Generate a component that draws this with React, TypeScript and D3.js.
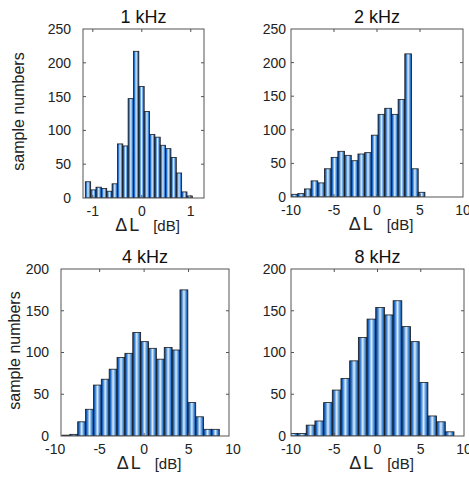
import React, { useEffect, useRef } from 'react';
import * as d3 from 'd3';

const titles = ['1 kHz', '2 kHz', '4 kHz', '8 kHz'];

// histogram counts per frequency band
const counts1k = [24, 12, 16, 14, 10, 21, 80, 77, 147, 217, 165, 128, 94, 90, 78, 73, 60, 37, 9, 3];
const counts2k = [4, 5, 12, 24, 21, 42, 59, 68, 62, 54, 64, 66, 92, 123, 132, 123, 145, 213, 42, 7];
const counts4k = [1, 2, 17, 32, 61, 68, 80, 94, 99, 124, 113, 105, 92, 106, 103, 175, 40, 23, 8, 8];
const counts8k = [3, 3, 13, 18, 40, 55, 69, 90, 118, 140, 154, 145, 162, 131, 113, 64, 24, 17, 5];

// first and last bin edge (dB)
const bins1k = [-1.153, 1.032];
const bins2k = [-10, 5.57];
const bins4k = [-9.24, 8.46];
const bins8k = [-10.25, 8.84];

// axis limits
const xlim1k = [-1.2, 1.27];
const xlim2k = [-10, 10];
const xlim4k = [-9.35, 9.55];
const xlim8k = [-10, 10];

const xTicksNarrow = [-1, 0, 1];
const xTicksWide = [-10, -5, 0, 5, 10];
const yTicks250 = [0, 50, 100, 150, 200, 250];
const yTicks200 = [0, 50, 100, 150, 200];

const FONT = 'Liberation Sans, Arial, sans-serif';

const panels = [
  { title: titles[0], counts: counts1k, bins: bins1k, xlim: xlim1k, ymax: 250, xt: xTicksNarrow, yt: yTicks250,
    box: [83, 204, 29, 198], lblGap: 12, ylabelX: 18 },
  { title: titles[1], counts: counts2k, bins: bins2k, xlim: xlim2k, ymax: 250, xt: xTicksWide, yt: yTicks250,
    box: [291, 463, 29, 197], lblGap: 5, ylabelX: null },
  { title: titles[2], counts: counts4k, bins: bins4k, xlim: xlim4k, ymax: 200, xt: xTicksWide, yt: yTicks200,
    box: [61, 229, 269, 436], lblGap: 12, ylabelX: 14 },
  { title: titles[3], counts: counts8k, bins: bins8k, xlim: xlim8k, ymax: 200, xt: xTicksWide, yt: yTicks200,
    box: [291, 464, 269, 436], lblGap: 5, ylabelX: null },
];

export default function App() {
  const svgRef = useRef<SVGSVGElement>(null);

  useEffect(() => {
    const svg = d3.select(svgRef.current);
    svg.selectAll('*').remove();

    const defs = svg.append('defs');
    const grad = defs.append('linearGradient').attr('id', 'barGrad')
      .attr('x1', '0').attr('x2', '1').attr('y1', '0').attr('y2', '0');
    [['0%', '#0a3a78'], ['18%', '#1f6cc8'], ['50%', '#dcedfb'], ['80%', '#3a86d8'], ['100%', '#0a3a78']]
      .forEach(([o, c]) => grad.append('stop').attr('offset', o).attr('stop-color', c));

    panels.forEach((p, pi) => {
      const [bx0, bx1, by0, by1] = p.box;
      const x = d3.scaleLinear().domain(p.xlim).range([bx0, bx1]);
      const y = d3.scaleLinear().domain([0, p.ymax]).range([by1, by0]);
      const g = svg.append('g');

      defs.append('clipPath').attr('id', 'clip' + pi)
        .append('rect').attr('x', bx0).attr('y', by0).attr('width', bx1 - bx0).attr('height', by1 - by0);

      const n = p.counts.length;
      const w = (p.bins[1] - p.bins[0]) / n;

      g.append('g').attr('clip-path', `url(#clip${pi})`)
        .selectAll('rect')
        .data(p.counts)
        .enter()
        .append('rect')
        .attr('x', (d, i) => x(p.bins[0] + i * w))
        .attr('width', x(p.bins[0] + w) - x(p.bins[0]))
        .attr('y', d => y(d))
        .attr('height', d => y(0) - y(d))
        .attr('fill', 'url(#barGrad)')
        .attr('stroke', '#1b1b1b')
        .attr('stroke-width', 0.8);

      // box
      g.append('rect').attr('x', bx0).attr('y', by0).attr('width', bx1 - bx0).attr('height', by1 - by0)
        .attr('fill', 'none').attr('stroke', '#555').attr('stroke-width', 1);

      // inward ticks on all sides
      const tl = 3;
      p.xt.filter(t => x(t) > bx0 + 1 && x(t) < bx1 - 1).forEach(t => {
        g.append('line').attr('x1', x(t)).attr('x2', x(t)).attr('y1', by1).attr('y2', by1 - tl).attr('stroke', '#555');
        g.append('line').attr('x1', x(t)).attr('x2', x(t)).attr('y1', by0).attr('y2', by0 + tl).attr('stroke', '#555');
      });
      p.yt.filter(t => y(t) > by0 + 1 && y(t) < by1 - 1).forEach(t => {
        g.append('line').attr('x1', bx0).attr('x2', bx0 + tl).attr('y1', y(t)).attr('y2', y(t)).attr('stroke', '#555');
        g.append('line').attr('x1', bx1).attr('x2', bx1 - tl).attr('y1', y(t)).attr('y2', y(t)).attr('stroke', '#555');
      });

      // tick labels
      g.selectAll('.yl').data(p.yt).enter().append('text')
        .attr('x', bx0 - p.lblGap).attr('y', d => y(d)).attr('dy', '0.35em')
        .attr('text-anchor', 'end').attr('font-family', FONT).attr('font-size', 14).attr('fill', '#222')
        .text(d => d);
      g.selectAll('.xl').data(p.xt).enter().append('text')
        .attr('x', d => x(d)).attr('y', by1 + 13).attr('dy', '0.35em')
        .attr('text-anchor', 'middle').attr('font-family', FONT).attr('font-size', 14).attr('fill', '#222')
        .text(d => d);

      // title
      g.append('text').attr('x', (bx0 + bx1) / 2).attr('y', by0 - 6)
        .attr('text-anchor', 'middle').attr('font-family', FONT).attr('font-size', 18).attr('fill', '#111')
        .text(p.title);

      // x label
      const xl = g.append('text').attr('x', (bx0 + bx1) / 2 + 4).attr('y', by1 + 33)
        .attr('text-anchor', 'middle').attr('font-family', FONT).attr('fill', '#222');
      xl.append('tspan').attr('font-size', 18).text('\u0394');
      xl.append('tspan').attr('font-size', 18).attr('dx', 2).text('L');
      xl.append('tspan').attr('font-size', 15).attr('dx', 14).text('[dB]');

      if (p.ylabelX !== null) {
        g.append('text')
          .attr('transform', `translate(${p.ylabelX},${(by0 + by1) / 2 - 2}) rotate(-90)`)
          .attr('dy', '0.35em')
          .attr('text-anchor', 'middle').attr('font-family', FONT).attr('font-size', 16).attr('fill', '#222')
          .text('sample numbers');
      }
    });
  }, []);

  return <svg ref={svgRef} width={469} height={478} style={{ display: 'block', position: 'absolute', left: 0, top: 0, background: '#fff' }} />;
}
